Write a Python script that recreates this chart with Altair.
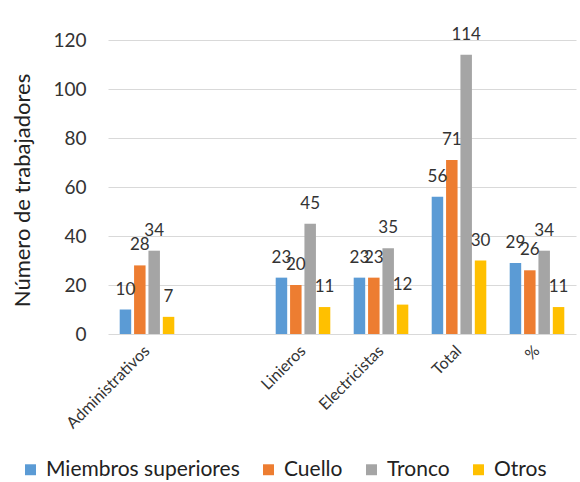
import altair as alt
import pandas as pd

categories = ["Administrativos", " ", "Linieros", "Electricistas", "Total", "%"]
series = ["Miembros superiores", "Cuello", "Tronco", "Otros"]
colors = ["#5B9BD5", "#ED7D31", "#A5A5A5", "#FFC000"]

miembros = {"Administrativos": 10, "Linieros": 23, "Electricistas": 23, "Total": 56, "%": 29}
cuello = {"Administrativos": 28, "Linieros": 20, "Electricistas": 23, "Total": 71, "%": 26}
tronco = {"Administrativos": 34, "Linieros": 45, "Electricistas": 35, "Total": 114, "%": 34}
otros = {"Administrativos": 7, "Linieros": 11, "Electricistas": 12, "Total": 30, "%": 11}

rows = []
for name, d in zip(series, [miembros, cuello, tronco, otros]):
    for cat, v in d.items():
        rows.append({"cat": cat, "serie": name, "valor": v})
df = pd.DataFrame(rows)

FONT = "Lato"

x = alt.X("cat:N", sort=categories, scale=alt.Scale(domain=categories, paddingInner=0.3, paddingOuter=0.15),
          axis=alt.Axis(title=None))
xo = alt.XOffset("serie:N", sort=series, scale=alt.Scale(domain=series, paddingInner=0.2, paddingOuter=0))
y = alt.Y("valor:Q", scale=alt.Scale(domain=[0, 120]),
          axis=alt.Axis(title="Número de trabajadores", values=[0, 20, 40, 60, 80, 100, 120]))

bars = alt.Chart(df).mark_bar().encode(
    x=x, xOffset=xo, y=y,
    color=alt.Color("serie:N", sort=series, scale=alt.Scale(domain=series, range=colors),
                    legend=alt.Legend(title=None, orient="none", direction="horizontal",
                                      legendX=-88, legendY=419, symbolType="square", symbolSize=120,
                                      symbolStrokeWidth=0, labelFontSize=21, labelFont=FONT,
                                      labelColor="#222", columnPadding=18, labelOffset=5,
                                      labelLimit=0)),
)

labels = alt.Chart(df).mark_text(fontSize=17, font=FONT, color="#333", baseline="alphabetic", dy=-15).encode(
    x=alt.X("cat:N", sort=categories),
    xOffset=alt.XOffset("serie:N", sort=series),
    y=alt.Y("valor:Q"),
    text="valor:Q",
)

chart = (bars + labels).properties(
    width=468, height=294,
    background="white",
    autosize=alt.AutoSizeParams(type="none"),
    padding={"left": 108, "top": 40, "right": 4, "bottom": 148},
).configure_view(stroke=None, strokeWidth=0).configure_axis(
    domain=False, ticks=False,
).configure_axisX(
    labelAngle=-45, labelAlign="right", labelBaseline="middle",
    labelFontSize=16, labelPadding=14, labelColor="#333", labelFont=FONT,
    grid=False,
).configure_axisY(
    titleFontSize=22, titleFont=FONT, titleFontWeight="normal", titleColor="#222",
    titleX=-86, titleY=150, titleAngle=-90, titleAlign="center", titleBaseline="middle",
    labelFontSize=19, labelFont=FONT, labelColor="#333", labelPadding=22,
    gridColor="#D9D9D9",
)

chart.save("out.html", embed_options={"renderer": "svg", "actions": False})
